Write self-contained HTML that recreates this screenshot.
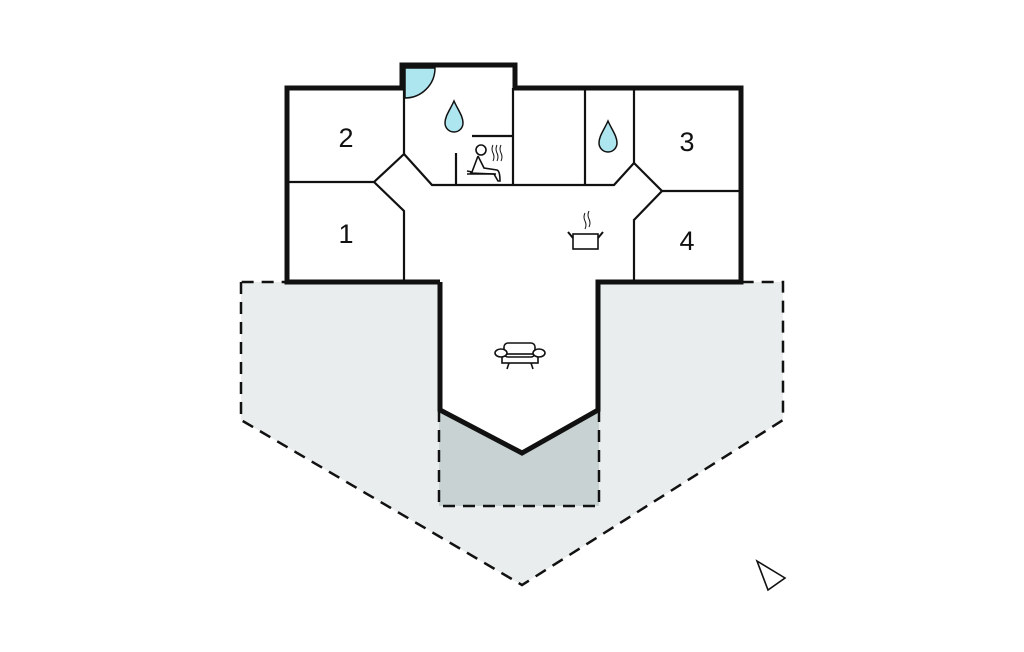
<!DOCTYPE html>
<html><head><meta charset="utf-8"><style>
html,body{margin:0;padding:0;background:#fff;}
svg{display:block}
text{font-family:"Liberation Sans",sans-serif;font-size:27px;fill:#111;text-anchor:middle}
</style></head><body>
<svg width="1024" height="652" viewBox="0 0 1024 652" xmlns="http://www.w3.org/2000/svg">
<!-- terrace -->
<polygon points="241,282 241,420 522,585 783,420 783,282" fill="#e9eded" stroke="#111" stroke-width="2.5" stroke-dasharray="12,8"/>
<rect x="439" y="410" width="160" height="96" fill="#c9d2d2" stroke="#111" stroke-width="2.5" stroke-dasharray="12,8"/>
<!-- house interior -->
<polygon points="287,88 402,88 402,65 515,65 515,88 741,88 741,282 598,282 598,410 522,453 440,410 440,282 287,282" fill="#fff"/>
<!-- thin walls -->
<g stroke="#111" stroke-width="2.2" fill="none">
<polyline points="287,182 374,182 404,154 404,88"/>
<polyline points="374,182 404,211 404,282"/>
<polyline points="404,154 432,185 614,185 634,163 634,88"/>
<polyline points="634,163 662,191 741,191"/>
<polyline points="662,191 634,220 634,282"/>
<line x1="513" y1="88" x2="513" y2="185"/>
<line x1="585" y1="88" x2="585" y2="185"/>
<line x1="472" y1="136" x2="513" y2="136"/>
<line x1="456" y1="153" x2="456" y2="185"/>
</g>
<!-- door arc -->
<path d="M405,68 L435,68 A30,30 0 0 1 405,98 Z" fill="#aee6f0" stroke="#111" stroke-width="1.5"/>
<!-- outer thick wall -->
<polyline points="440,282 287,282 287,88 402,88 402,65 515,65 515,88 741,88 741,282 598,282 598,410 522,453 440,410 440,282" fill="none" stroke="#111" stroke-width="5" stroke-linejoin="miter"/>
<!-- drops -->
<path d="M454,101 C458,110 463,116 463,123 A9,9 0 0 1 445,123 C445,116 450,110 454,101 Z" fill="#aee6f0" stroke="#111" stroke-width="1.5"/>
<path d="M608,121 C612,130 617,136 617,143 A9,9 0 0 1 599,143 C599,136 604,130 608,121 Z" fill="#aee6f0" stroke="#111" stroke-width="1.5"/>
<!-- sauna figure -->
<g stroke="#111" stroke-width="1.6" fill="none">
<circle cx="481" cy="150" r="5"/>
<path d="M478,156 L472,172 L467,171 M478,156 L484,168 L497,170 Q500,171 500,181 L498,181 L494,174 L470,173"/>
<path d="M467,174 L496,174"/>
<path d="M493,145 q-2,4 0,8 q2,4 0,8 M497,145 q-2,4 0,8 q2,4 0,8 M501,145 q-2,4 0,8 q2,4 0,8" stroke-width="1"/>
</g>
<!-- pot -->
<g stroke="#111" fill="none">
<rect x="573" y="234" width="25" height="15" stroke-width="1.6"/>
<path d="M568,232 L573,238 M603,232 L598,238" stroke-width="2"/>
<path d="M585,213 q-2,4 0,8 q2,4 0,8 M589,211 q-2,4 0,8 q2,4 0,8" stroke-width="1"/>
</g>
<!-- sofa -->
<g stroke="#111" stroke-width="1.6" fill="#fff">
<rect x="504" y="343" width="31" height="14" rx="4"/>
<rect x="502" y="354" width="36" height="9" fill="none"/>
<ellipse cx="501" cy="353" rx="6" ry="4"/>
<ellipse cx="539" cy="353" rx="6" ry="4"/>
<path d="M509,363 L507,369 M531,363 L533,369" fill="none"/>
</g>
<!-- labels -->
<text x="346" y="147">2</text>
<text x="346" y="243">1</text>
<text x="687" y="151">3</text>
<text x="687" y="250">4</text>
<!-- compass -->
<polygon points="757,561 785,578 768,590" fill="#fff" stroke="#111" stroke-width="1.6"/>
</svg>
</body></html>
